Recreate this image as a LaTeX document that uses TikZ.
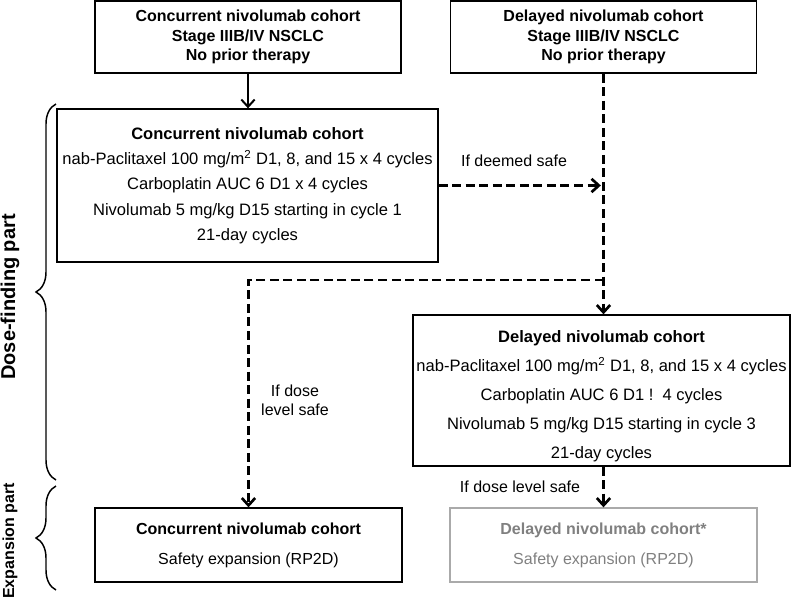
\documentclass[tikz,border=0pt]{standalone}
\usepackage{fontspec}
\setmainfont{Liberation Sans}
\usetikzlibrary{arrows.meta,decorations.pathreplacing}
\definecolor{expGray}{RGB}{128,128,128}
\definecolor{expLine}{RGB}{170,170,170}

\begin{document}
\begin{tikzpicture}
[x=0.75pt,y=-0.75pt,
  boxDecorate/.style={draw,line width=1pt,align=center,inner sep=0pt},
  topDecorate/.style={boxDecorate,minimum width=229.5pt,minimum height=54pt,
    font=\fontsize{12}{14.8}\selectfont\bfseries},
  doseDecorate/.style={boxDecorate,font=\fontsize{12.4}{19}\selectfont},
  expDecorate/.style={boxDecorate,minimum width=230.25pt,minimum height=55.5pt,
    font=\fontsize{12}{22.5}\selectfont},
  labelDecorate/.style={inner sep=0pt,align=center,font=\fontsize{12}{14.25}\selectfont},
  sideDecorate/.style={inner sep=0pt,rotate=90,font=\fontsize{15}{18}\selectfont\bfseries},
  solidArrow/.style={line width=1.5pt,-{Straight Barb[length=5.5pt,width=10pt]}},
  dashArrow/.style={line width=2pt,dash pattern=on 6.75pt off 3.4pt,
    -{Straight Barb[length=5.5pt,width=10pt]}},
  braceDecorate/.style={line width=1.1pt,decorate,decoration={brace,amplitude=15pt}}]
\useasboundingbox (0,0) rectangle (794,603);
%% boxes
\node (topConc) at (248,37) [topDecorate]
  {Concurrent nivolumab cohort\\Stage IIIB/IV NSCLC\\No prior therapy};
\node (topDel) at (603.5,37) [topDecorate]
  {Delayed nivolumab cohort\\Stage IIIB/IV NSCLC\\No prior therapy};
\node (doseConc) at (247.5,185.5) [doseDecorate,minimum width=285.75pt,minimum height=114.75pt]
  {\textbf{Concurrent nivolumab cohort}\\
   nab-Paclitaxel 100 mg/m\textsuperscript{2} D1, 8, and 15 x 4 cycles\\
   Carboplatin AUC 6 D1 x 4 cycles\\
   Nivolumab 5 mg/kg D15 starting in cycle 1\\
   21-day cycles};
\node (doseDel) at (601.5,390.5) [doseDecorate,minimum width=282.75pt,minimum height=113.25pt,
  font=\fontsize{12.4}{21.75}\selectfont]
  {\rule{0pt}{17.5pt}\textbf{Delayed nivolumab cohort}\\
   nab-Paclitaxel 100 mg/m\textsuperscript{2} D1, 8, and 15 x 4 cycles\\
   Carboplatin AUC 6 D1 !\ \ 4 cycles\\
   Nivolumab 5 mg/kg D15 starting in cycle 3\\
   21-day cycles};
\node (expConc) at (248.5,545) [expDecorate]
  {\textbf{Concurrent nivolumab cohort}\\Safety expansion (RP2D)};
\node (expDel) at (603.5,545) [expDecorate,draw=expLine,text=expGray]
  {\textbf{Delayed nivolumab cohort*}\\Safety expansion (RP2D)};
%% labels
\node (deemedLabel) at (514,161) [labelDecorate] {If deemed safe};
\node (safeLabelA) at (295,400) [labelDecorate] {If dose\\level safe};
\node (safeLabelB) at (520,487) [labelDecorate] {If dose level safe};
\node (doseFinding) at (10,297) [sideDecorate] {Dose-finding part};
\node (expansion) at (10,541) [sideDecorate,font=\fontsize{12}{14}\selectfont\bfseries] {Expansion part};
\coordinate (split) at (603.5,280);
%% arrows
\draw[solidArrow] (topConc.south) -- (topConc.south |- doseConc.north);
\draw[dashArrow] (topDel.south) -- (topDel.south |- doseDel.north);
\draw[dashArrow,shorten >=2pt] (doseConc.east) -- (doseConc.east -| split);
\draw[dashArrow] (split) -| (expConc.north);
\draw[dashArrow] (topDel.south |- doseDel.south) -- (topDel.south |- expDel.north);
%% braces
\draw[braceDecorate] (56,480) -- (56,104);
\draw[braceDecorate] (56,590) -- (56,486);
\end{tikzpicture}
\end{document}
